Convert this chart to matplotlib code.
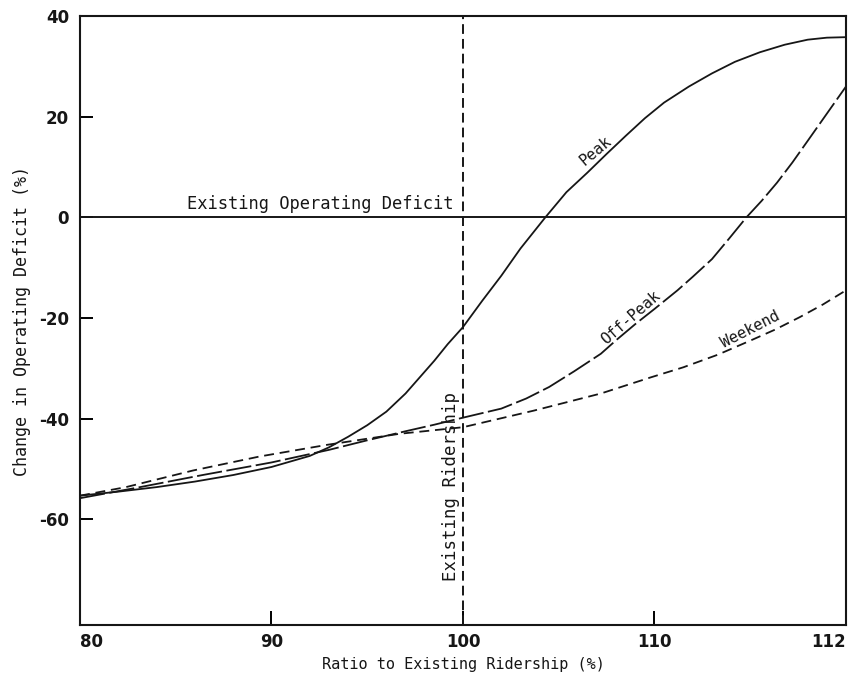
import numpy as np
import matplotlib
matplotlib.use('Agg')
import matplotlib.pyplot as plt

# valores
peak_x = [80, 82, 84, 86, 88, 90, 92, 93, 94, 95, 96, 97, 98.5, 99.2, 100, 101, 102, 103, 104.3,
          105.4, 106.5, 107.5, 108.5, 109.5, 110.5, 111.8, 113, 114.2, 115.5, 116.8, 118, 119, 120]
peak_y = [-55.3, -54.5, -53.6, -52.5, -51.2, -49.6, -47.4, -45.7, -43.6, -41.3, -38.6, -35.0, -28.5, -25.2, -21.8,
          -16.6, -11.6, -6.2, 0, 5.0, 8.9, 12.6, 16.2, 19.7, 22.8, 26.0, 28.6, 30.9, 32.8, 34.3, 35.3, 35.7, 35.8]

offpeak_x = [80, 83, 86.4, 90, 93, 95, 97, 98.5, 100, 102, 103.3, 104.5, 105.8, 107.2, 108, 109, 110, 111.2,
             112, 113, 113.9, 114.8, 115.6, 116.4, 117.2, 118, 119, 120]
offpeak_y = [-55.8, -53.7, -51.2, -48.7, -46.2, -44.3, -42.5, -41.2, -39.8, -38.0, -36.0, -33.7, -30.6, -27.1,
             -24.4, -21.2, -18.2, -14.5, -11.8, -8.3, -4.2, 0, 3.3, 6.9, 10.9, 15.2, 20.6, 26.0]

weekend_x = [80, 82.4, 85.9, 89.4, 92.9, 96.7, 100, 103.7, 107.2, 109.8, 111.5, 113.3, 115, 116.3, 117.6, 118.8, 120]
weekend_y = [-55.3, -53.6, -50.3, -47.5, -45.2, -43.0, -41.7, -38.4, -35.0, -31.8, -29.8, -27.3, -24.5, -22.3,
             -19.8, -17.3, -14.5]

x_ticks = [80, 90, 100, 110, 120]
x_tick_labels = ['80', '90', '100', '110', '112']
y_ticks = [-60, -40, -20, 0, 20, 40]
y_tick_labels = ['-60', '-40', '-20', '0', '20', '40']

existing_deficit = 0
existing_ridership = 100

mono = 'DejaVu Sans Mono'
ink = '#161616'

fig = plt.figure(figsize=(8.63, 6.79), dpi=100)
ax = fig.add_axes([0.0927, 0.0795, 0.8876, 0.8969])

lw = 1.3
ax.plot(peak_x, peak_y, color=ink, lw=lw, linestyle='-')
ax.plot(offpeak_x, offpeak_y, color=ink, lw=lw, linestyle=(0, (14, 2.5)))
ax.plot(weekend_x, weekend_y, color=ink, lw=lw, linestyle=(0, (5.5, 3.2)))

# linhas de referencia
ax.axhline(existing_deficit, color=ink, lw=1.4)
ax.axvline(existing_ridership, color=ink, lw=1.4, linestyle=(0, (5, 2.6)))

# rotulos das curvas
ax.text(107.2, 12.0, 'Peak', rotation=40, rotation_mode='anchor',
        ha='center', va='bottom', family=mono, fontsize=11, color=ink)
ax.text(109.0, -21.0, 'Off-Peak', rotation=41, rotation_mode='anchor',
        ha='center', va='bottom', family=mono, fontsize=11, color=ink)
ax.text(115.2, -23.6, 'Weekend', rotation=27, rotation_mode='anchor',
        ha='center', va='bottom', family=mono, fontsize=11, color=ink)
ax.text(85.6, 0.8, 'Existing Operating Deficit', ha='left', va='bottom',
        family=mono, fontsize=12.3, color=ink)
ax.text(99.85, -53.5, 'Existing Ridership', rotation=90, ha='right', va='center',
        family=mono, fontsize=12.5, color=ink)

ax.set_xlim(80, 120)
ax.set_ylim(-81, 40)
ax.set_xticks(x_ticks)
ax.set_xticklabels(x_tick_labels)
ax.set_yticks(y_ticks)
ax.set_yticklabels(y_tick_labels)

ax.tick_params(axis='x', direction='in', length=10, width=1.4, pad=6)
ax.tick_params(axis='y', direction='in', length=9, width=1.4, pad=8)
for lab in ax.get_xticklabels() + ax.get_yticklabels():
    lab.set_fontweight('bold')
    lab.set_fontsize(12)
    lab.set_color(ink)

# rotulos das pontas alinhados para dentro, como no original
xlabs = ax.get_xticklabels()
xlabs[0].set_ha('left')
xlabs[-1].set_ha('right')

for s in ax.spines.values():
    s.set_linewidth(1.5)
    s.set_color(ink)

ax.set_xlabel('Ratio to Existing Ridership (%)', family=mono, fontsize=11, labelpad=4, color=ink)
ax.set_ylabel('Change in Operating Deficit (%)', family=mono, fontsize=12, labelpad=6, color=ink)

fig.savefig('out.png', dpi=100)
